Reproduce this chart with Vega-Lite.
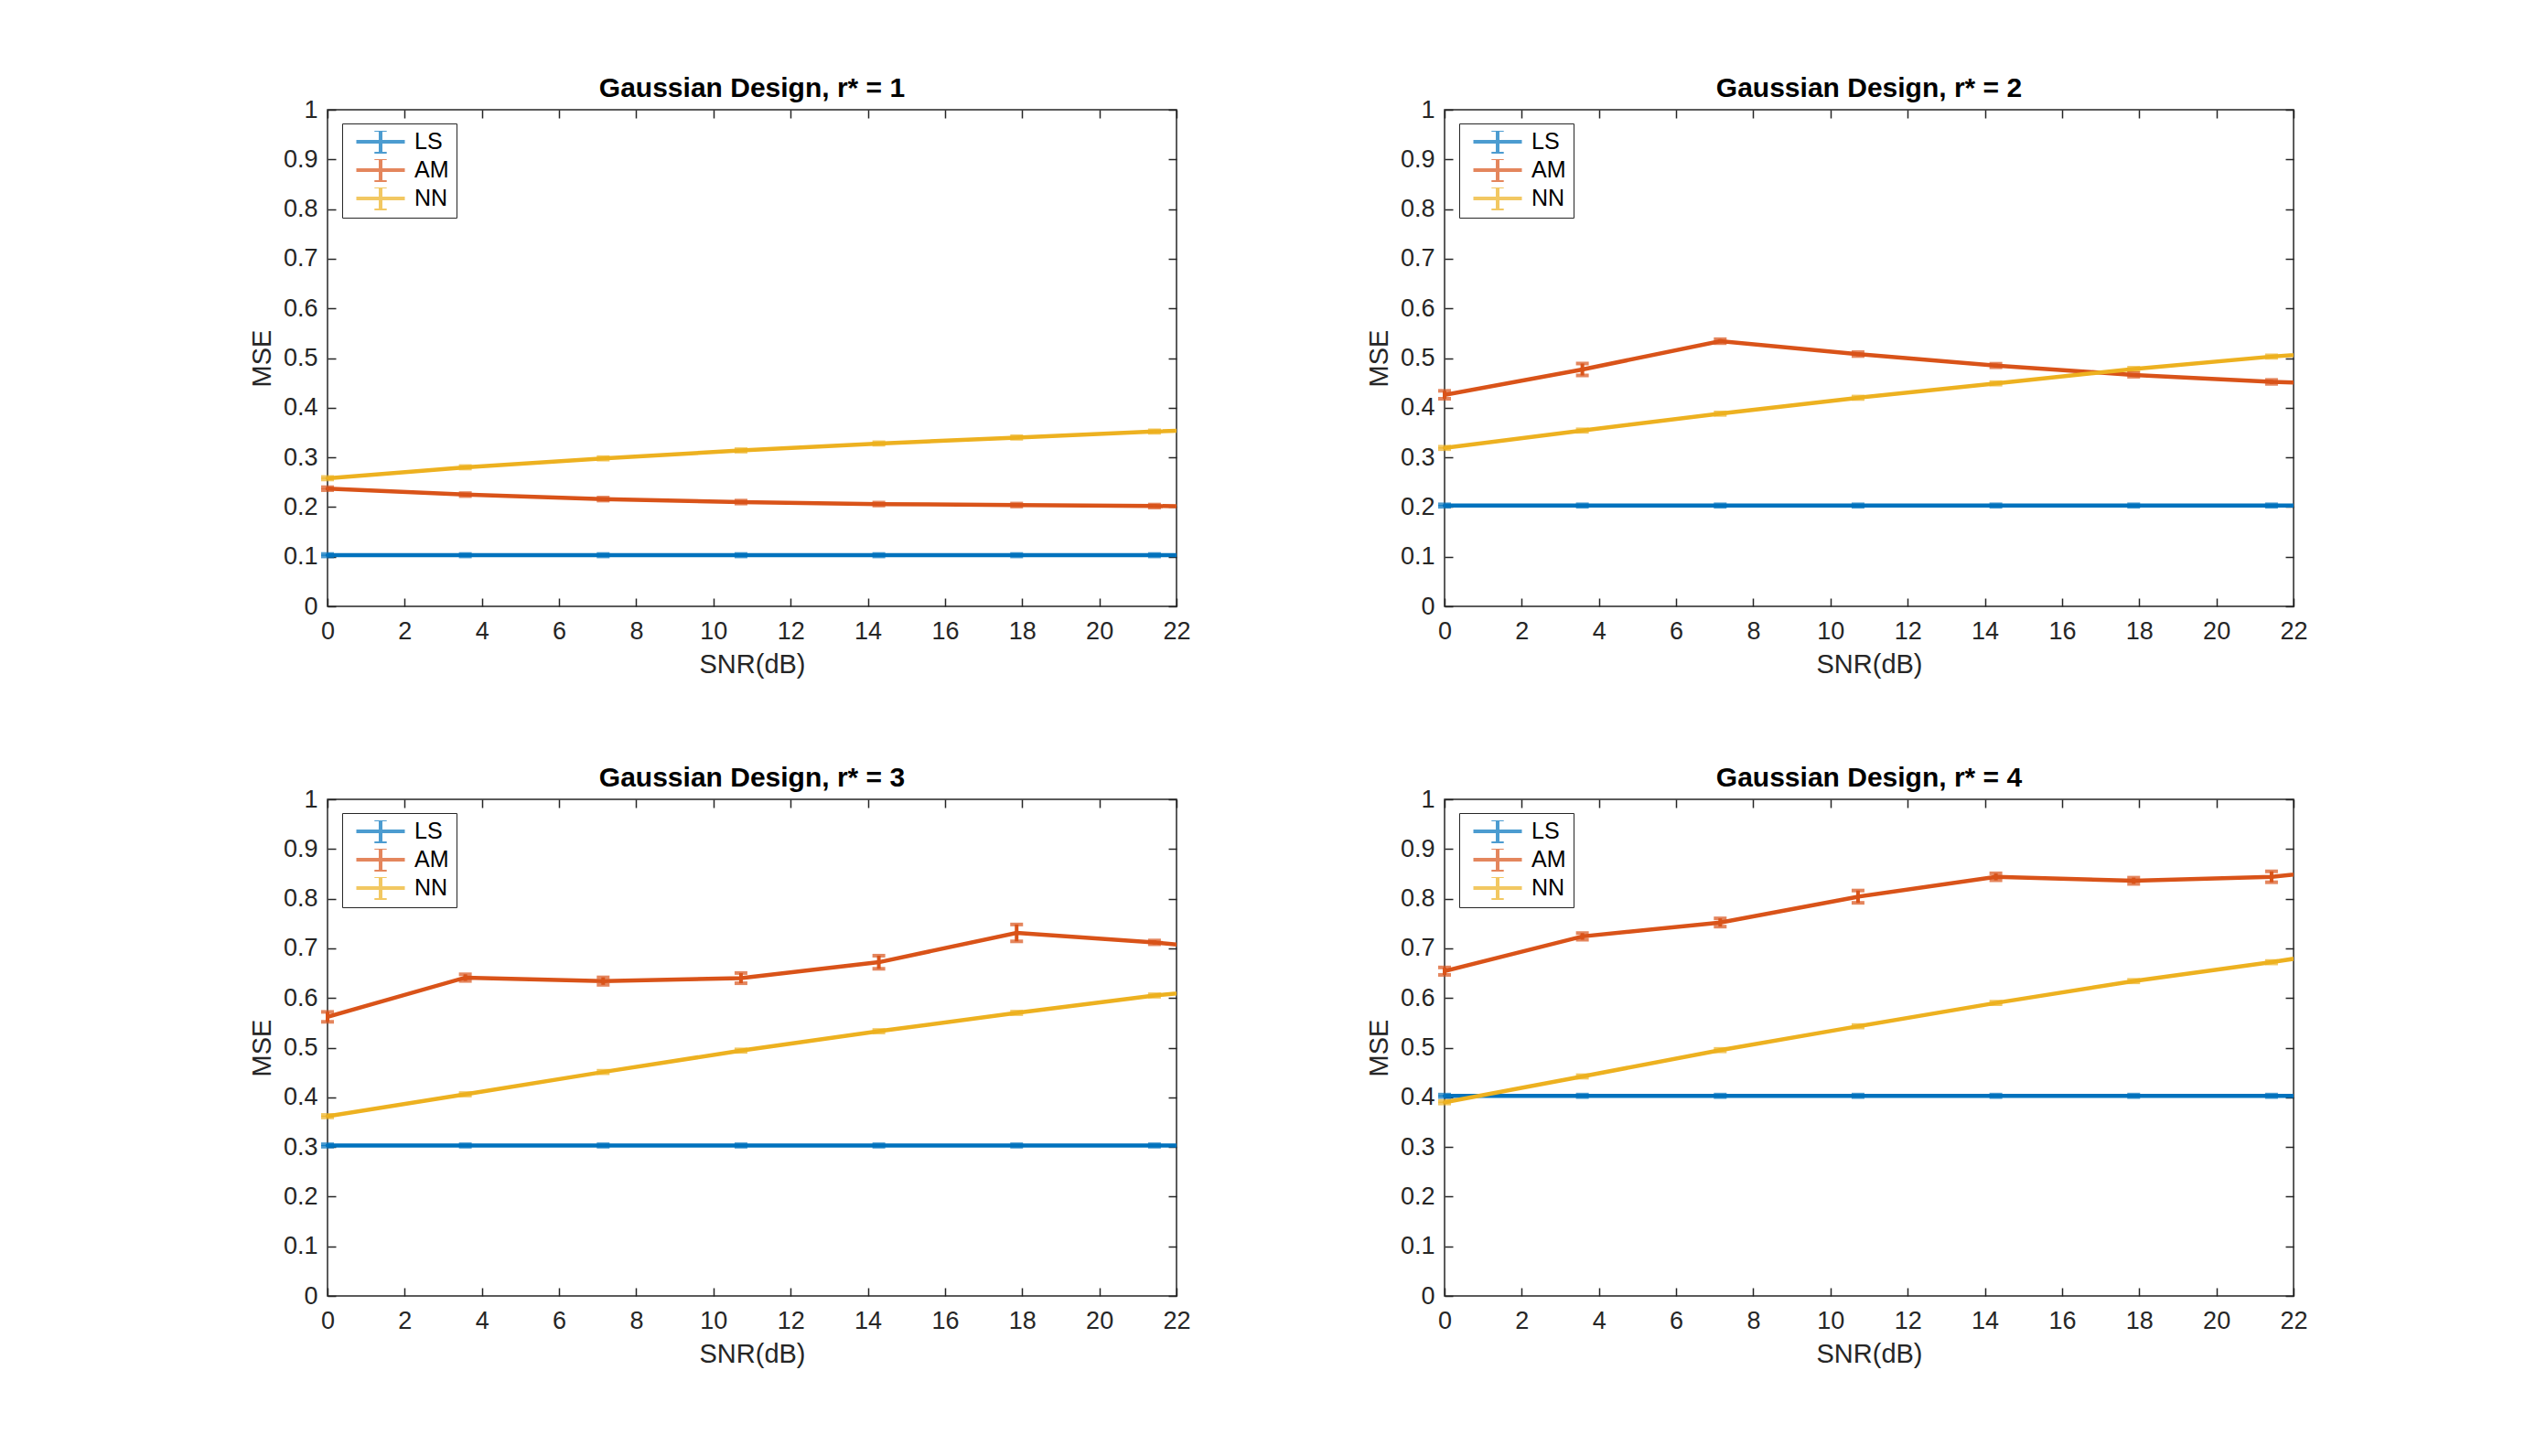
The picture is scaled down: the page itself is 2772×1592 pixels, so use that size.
{
  "$schema": "https://vega.github.io/schema/vega-lite/v6.json",
  "padding": {"left": 271, "top": 81, "right": 0, "bottom": 0},
  "background": "white",
  "data": {
    "values": [
      {"p": 1, "m": "LS", "x": 0, "y": 0.103, "e": 0.0025},
      {"p": 1, "m": "LS", "x": 3.571, "y": 0.103, "e": 0.0025},
      {"p": 1, "m": "LS", "x": 7.143, "y": 0.103, "e": 0.0025},
      {"p": 1, "m": "LS", "x": 10.714, "y": 0.103, "e": 0.0025},
      {"p": 1, "m": "LS", "x": 14.286, "y": 0.103, "e": 0.0025},
      {"p": 1, "m": "LS", "x": 17.857, "y": 0.103, "e": 0.0025},
      {"p": 1, "m": "LS", "x": 21.429, "y": 0.103, "e": 0.0025},
      {"p": 1, "m": "LS", "x": 25, "y": 0.103, "e": 0},
      {"p": 1, "m": "AM", "x": 0, "y": 0.237, "e": 0.003},
      {"p": 1, "m": "AM", "x": 3.571, "y": 0.225, "e": 0.003},
      {"p": 1, "m": "AM", "x": 7.143, "y": 0.216, "e": 0.003},
      {"p": 1, "m": "AM", "x": 10.714, "y": 0.21, "e": 0.003},
      {"p": 1, "m": "AM", "x": 14.286, "y": 0.206, "e": 0.003},
      {"p": 1, "m": "AM", "x": 17.857, "y": 0.204, "e": 0.003},
      {"p": 1, "m": "AM", "x": 21.429, "y": 0.202, "e": 0.003},
      {"p": 1, "m": "AM", "x": 25, "y": 0.2, "e": 0},
      {"p": 1, "m": "NN", "x": 0, "y": 0.258, "e": 0.0025},
      {"p": 1, "m": "NN", "x": 3.571, "y": 0.28, "e": 0.0025},
      {"p": 1, "m": "NN", "x": 7.143, "y": 0.298, "e": 0.0025},
      {"p": 1, "m": "NN", "x": 10.714, "y": 0.314, "e": 0.0025},
      {"p": 1, "m": "NN", "x": 14.286, "y": 0.328, "e": 0.0025},
      {"p": 1, "m": "NN", "x": 17.857, "y": 0.34, "e": 0.0025},
      {"p": 1, "m": "NN", "x": 21.429, "y": 0.352, "e": 0.0025},
      {"p": 1, "m": "NN", "x": 25, "y": 0.362, "e": 0},
      {"p": 2, "m": "LS", "x": 0, "y": 0.203, "e": 0.0025},
      {"p": 2, "m": "LS", "x": 3.571, "y": 0.203, "e": 0.0025},
      {"p": 2, "m": "LS", "x": 7.143, "y": 0.203, "e": 0.0025},
      {"p": 2, "m": "LS", "x": 10.714, "y": 0.203, "e": 0.0025},
      {"p": 2, "m": "LS", "x": 14.286, "y": 0.203, "e": 0.0025},
      {"p": 2, "m": "LS", "x": 17.857, "y": 0.203, "e": 0.0025},
      {"p": 2, "m": "LS", "x": 21.429, "y": 0.203, "e": 0.0025},
      {"p": 2, "m": "LS", "x": 25, "y": 0.203, "e": 0},
      {"p": 2, "m": "AM", "x": 0, "y": 0.426, "e": 0.008},
      {"p": 2, "m": "AM", "x": 3.571, "y": 0.477, "e": 0.012},
      {"p": 2, "m": "AM", "x": 7.143, "y": 0.534, "e": 0.004},
      {"p": 2, "m": "AM", "x": 10.714, "y": 0.508, "e": 0.004},
      {"p": 2, "m": "AM", "x": 14.286, "y": 0.485, "e": 0.0036},
      {"p": 2, "m": "AM", "x": 17.857, "y": 0.466, "e": 0.0036},
      {"p": 2, "m": "AM", "x": 21.429, "y": 0.452, "e": 0.004},
      {"p": 2, "m": "AM", "x": 25, "y": 0.445, "e": 0},
      {"p": 2, "m": "NN", "x": 0, "y": 0.319, "e": 0.0025},
      {"p": 2, "m": "NN", "x": 3.571, "y": 0.354, "e": 0.0025},
      {"p": 2, "m": "NN", "x": 7.143, "y": 0.388, "e": 0.0025},
      {"p": 2, "m": "NN", "x": 10.714, "y": 0.42, "e": 0.0025},
      {"p": 2, "m": "NN", "x": 14.286, "y": 0.449, "e": 0.0025},
      {"p": 2, "m": "NN", "x": 17.857, "y": 0.478, "e": 0.0025},
      {"p": 2, "m": "NN", "x": 21.429, "y": 0.503, "e": 0.0025},
      {"p": 2, "m": "NN", "x": 25, "y": 0.523, "e": 0},
      {"p": 3, "m": "LS", "x": 0, "y": 0.303, "e": 0.0025},
      {"p": 3, "m": "LS", "x": 3.571, "y": 0.303, "e": 0.0025},
      {"p": 3, "m": "LS", "x": 7.143, "y": 0.303, "e": 0.0025},
      {"p": 3, "m": "LS", "x": 10.714, "y": 0.303, "e": 0.0025},
      {"p": 3, "m": "LS", "x": 14.286, "y": 0.303, "e": 0.0025},
      {"p": 3, "m": "LS", "x": 17.857, "y": 0.303, "e": 0.0025},
      {"p": 3, "m": "LS", "x": 21.429, "y": 0.303, "e": 0.0025},
      {"p": 3, "m": "LS", "x": 25, "y": 0.303, "e": 0},
      {"p": 3, "m": "AM", "x": 0, "y": 0.562, "e": 0.01},
      {"p": 3, "m": "AM", "x": 3.571, "y": 0.641, "e": 0.0067},
      {"p": 3, "m": "AM", "x": 7.143, "y": 0.634, "e": 0.0075},
      {"p": 3, "m": "AM", "x": 10.714, "y": 0.64, "e": 0.0103},
      {"p": 3, "m": "AM", "x": 14.286, "y": 0.672, "e": 0.0132},
      {"p": 3, "m": "AM", "x": 17.857, "y": 0.731, "e": 0.017},
      {"p": 3, "m": "AM", "x": 21.429, "y": 0.712, "e": 0.0038},
      {"p": 3, "m": "AM", "x": 25, "y": 0.685, "e": 0},
      {"p": 3, "m": "NN", "x": 0, "y": 0.362, "e": 0.0025},
      {"p": 3, "m": "NN", "x": 3.571, "y": 0.406, "e": 0.0025},
      {"p": 3, "m": "NN", "x": 7.143, "y": 0.451, "e": 0.0025},
      {"p": 3, "m": "NN", "x": 10.714, "y": 0.494, "e": 0.0025},
      {"p": 3, "m": "NN", "x": 14.286, "y": 0.533, "e": 0.0025},
      {"p": 3, "m": "NN", "x": 17.857, "y": 0.57, "e": 0.0025},
      {"p": 3, "m": "NN", "x": 21.429, "y": 0.605, "e": 0.0025},
      {"p": 3, "m": "NN", "x": 25, "y": 0.632, "e": 0},
      {"p": 4, "m": "LS", "x": 0, "y": 0.403, "e": 0.0025},
      {"p": 4, "m": "LS", "x": 3.571, "y": 0.403, "e": 0.0025},
      {"p": 4, "m": "LS", "x": 7.143, "y": 0.403, "e": 0.0025},
      {"p": 4, "m": "LS", "x": 10.714, "y": 0.403, "e": 0.0025},
      {"p": 4, "m": "LS", "x": 14.286, "y": 0.403, "e": 0.0025},
      {"p": 4, "m": "LS", "x": 17.857, "y": 0.403, "e": 0.0025},
      {"p": 4, "m": "LS", "x": 21.429, "y": 0.403, "e": 0.0025},
      {"p": 4, "m": "LS", "x": 25, "y": 0.403, "e": 0},
      {"p": 4, "m": "AM", "x": 0, "y": 0.654, "e": 0.0075},
      {"p": 4, "m": "AM", "x": 3.571, "y": 0.724, "e": 0.0067},
      {"p": 4, "m": "AM", "x": 7.143, "y": 0.752, "e": 0.0083},
      {"p": 4, "m": "AM", "x": 10.714, "y": 0.804, "e": 0.0124},
      {"p": 4, "m": "AM", "x": 14.286, "y": 0.844, "e": 0.007},
      {"p": 4, "m": "AM", "x": 17.857, "y": 0.836, "e": 0.0063},
      {"p": 4, "m": "AM", "x": 21.429, "y": 0.844, "e": 0.011},
      {"p": 4, "m": "AM", "x": 25, "y": 0.873, "e": 0},
      {"p": 4, "m": "NN", "x": 0, "y": 0.39, "e": 0.0025},
      {"p": 4, "m": "NN", "x": 3.571, "y": 0.442, "e": 0.0025},
      {"p": 4, "m": "NN", "x": 7.143, "y": 0.495, "e": 0.0025},
      {"p": 4, "m": "NN", "x": 10.714, "y": 0.543, "e": 0.0025},
      {"p": 4, "m": "NN", "x": 14.286, "y": 0.59, "e": 0.0025},
      {"p": 4, "m": "NN", "x": 17.857, "y": 0.634, "e": 0.0025},
      {"p": 4, "m": "NN", "x": 21.429, "y": 0.672, "e": 0.0025},
      {"p": 4, "m": "NN", "x": 25, "y": 0.715, "e": 0}
    ]
  },
  "columns": 2,
  "spacing": {"row": 211, "column": 293},
  "bounds": "flush",
  "concat": [
    {
      "width": 928,
      "height": 543,
      "title": "Gaussian Design, r* = 1",
      "transform": [{"filter": "datum.p == 1"}],
      "layer": [
        {
          "mark": {"type": "line", "clip": true, "strokeWidth": 4.5},
          "encoding": {
            "x": {"field": "x", "type": "quantitative", "title": "SNR(dB)", "scale": {"domain": [0, 22], "nice": false}, "axis": {"orient": "bottom", "values": [0, 2, 4, 6, 8, 10, 12, 14, 16, 18, 20, 22]}},
            "y": {"field": "y", "type": "quantitative", "title": "MSE", "scale": {"domain": [0, 1], "nice": false}, "axis": {"orient": "left", "values": [0, 0.1, 0.2, 0.3, 0.4, 0.5, 0.6, 0.7, 0.8, 0.9, 1], "format": "~g"}},
            "color": {"field": "m", "type": "nominal", "scale": {"domain": ["LS", "AM", "NN"], "range": ["#0072BD", "#D95319", "#EDB120"]}, "legend": {"title": null}}
          }
        },
        {
          "transform": [{"filter": "datum.x < 22"}],
          "mark": {"type": "errorbar", "ticks": true, "size": 14, "thickness": 4},
          "encoding": {
            "x": {"field": "x", "type": "quantitative", "axis": null},
            "y": {"field": "y", "type": "quantitative", "axis": null},
            "yError": {"field": "e"},
            "color": {"field": "m", "type": "nominal"}
          }
        },
        {
          "transform": [{"filter": "datum.x < 22"}],
          "mark": {"type": "point", "opacity": 0},
          "encoding": {
            "x": {"field": "x", "type": "quantitative", "axis": {"orient": "top", "title": null, "labels": false, "values": [0, 2, 4, 6, 8, 10, 12, 14, 16, 18, 20, 22]}},
            "y": {"field": "y", "type": "quantitative", "axis": {"orient": "right", "title": null, "labels": false, "values": [0, 0.1, 0.2, 0.3, 0.4, 0.5, 0.6, 0.7, 0.8, 0.9, 1]}}
          }
        }
      ],
      "resolve": {"axis": {"x": "independent", "y": "independent"}}
    },
    {
      "width": 928,
      "height": 543,
      "title": "Gaussian Design, r* = 2",
      "transform": [{"filter": "datum.p == 2"}],
      "layer": [
        {
          "mark": {"type": "line", "clip": true, "strokeWidth": 4.5},
          "encoding": {
            "x": {"field": "x", "type": "quantitative", "title": "SNR(dB)", "scale": {"domain": [0, 22], "nice": false}, "axis": {"orient": "bottom", "values": [0, 2, 4, 6, 8, 10, 12, 14, 16, 18, 20, 22]}},
            "y": {"field": "y", "type": "quantitative", "title": "MSE", "scale": {"domain": [0, 1], "nice": false}, "axis": {"orient": "left", "values": [0, 0.1, 0.2, 0.3, 0.4, 0.5, 0.6, 0.7, 0.8, 0.9, 1], "format": "~g"}},
            "color": {"field": "m", "type": "nominal", "scale": {"domain": ["LS", "AM", "NN"], "range": ["#0072BD", "#D95319", "#EDB120"]}, "legend": {"title": null}}
          }
        },
        {
          "transform": [{"filter": "datum.x < 22"}],
          "mark": {"type": "errorbar", "ticks": true, "size": 14, "thickness": 4},
          "encoding": {
            "x": {"field": "x", "type": "quantitative", "axis": null},
            "y": {"field": "y", "type": "quantitative", "axis": null},
            "yError": {"field": "e"},
            "color": {"field": "m", "type": "nominal"}
          }
        },
        {
          "transform": [{"filter": "datum.x < 22"}],
          "mark": {"type": "point", "opacity": 0},
          "encoding": {
            "x": {"field": "x", "type": "quantitative", "axis": {"orient": "top", "title": null, "labels": false, "values": [0, 2, 4, 6, 8, 10, 12, 14, 16, 18, 20, 22]}},
            "y": {"field": "y", "type": "quantitative", "axis": {"orient": "right", "title": null, "labels": false, "values": [0, 0.1, 0.2, 0.3, 0.4, 0.5, 0.6, 0.7, 0.8, 0.9, 1]}}
          }
        }
      ],
      "resolve": {"axis": {"x": "independent", "y": "independent"}}
    },
    {
      "width": 928,
      "height": 543,
      "title": "Gaussian Design, r* = 3",
      "transform": [{"filter": "datum.p == 3"}],
      "layer": [
        {
          "mark": {"type": "line", "clip": true, "strokeWidth": 4.5},
          "encoding": {
            "x": {"field": "x", "type": "quantitative", "title": "SNR(dB)", "scale": {"domain": [0, 22], "nice": false}, "axis": {"orient": "bottom", "values": [0, 2, 4, 6, 8, 10, 12, 14, 16, 18, 20, 22]}},
            "y": {"field": "y", "type": "quantitative", "title": "MSE", "scale": {"domain": [0, 1], "nice": false}, "axis": {"orient": "left", "values": [0, 0.1, 0.2, 0.3, 0.4, 0.5, 0.6, 0.7, 0.8, 0.9, 1], "format": "~g"}},
            "color": {"field": "m", "type": "nominal", "scale": {"domain": ["LS", "AM", "NN"], "range": ["#0072BD", "#D95319", "#EDB120"]}, "legend": {"title": null}}
          }
        },
        {
          "transform": [{"filter": "datum.x < 22"}],
          "mark": {"type": "errorbar", "ticks": true, "size": 14, "thickness": 4},
          "encoding": {
            "x": {"field": "x", "type": "quantitative", "axis": null},
            "y": {"field": "y", "type": "quantitative", "axis": null},
            "yError": {"field": "e"},
            "color": {"field": "m", "type": "nominal"}
          }
        },
        {
          "transform": [{"filter": "datum.x < 22"}],
          "mark": {"type": "point", "opacity": 0},
          "encoding": {
            "x": {"field": "x", "type": "quantitative", "axis": {"orient": "top", "title": null, "labels": false, "values": [0, 2, 4, 6, 8, 10, 12, 14, 16, 18, 20, 22]}},
            "y": {"field": "y", "type": "quantitative", "axis": {"orient": "right", "title": null, "labels": false, "values": [0, 0.1, 0.2, 0.3, 0.4, 0.5, 0.6, 0.7, 0.8, 0.9, 1]}}
          }
        }
      ],
      "resolve": {"axis": {"x": "independent", "y": "independent"}}
    },
    {
      "width": 928,
      "height": 543,
      "title": "Gaussian Design, r* = 4",
      "transform": [{"filter": "datum.p == 4"}],
      "layer": [
        {
          "mark": {"type": "line", "clip": true, "strokeWidth": 4.5},
          "encoding": {
            "x": {"field": "x", "type": "quantitative", "title": "SNR(dB)", "scale": {"domain": [0, 22], "nice": false}, "axis": {"orient": "bottom", "values": [0, 2, 4, 6, 8, 10, 12, 14, 16, 18, 20, 22]}},
            "y": {"field": "y", "type": "quantitative", "title": "MSE", "scale": {"domain": [0, 1], "nice": false}, "axis": {"orient": "left", "values": [0, 0.1, 0.2, 0.3, 0.4, 0.5, 0.6, 0.7, 0.8, 0.9, 1], "format": "~g"}},
            "color": {"field": "m", "type": "nominal", "scale": {"domain": ["LS", "AM", "NN"], "range": ["#0072BD", "#D95319", "#EDB120"]}, "legend": {"title": null}}
          }
        },
        {
          "transform": [{"filter": "datum.x < 22"}],
          "mark": {"type": "errorbar", "ticks": true, "size": 14, "thickness": 4},
          "encoding": {
            "x": {"field": "x", "type": "quantitative", "axis": null},
            "y": {"field": "y", "type": "quantitative", "axis": null},
            "yError": {"field": "e"},
            "color": {"field": "m", "type": "nominal"}
          }
        },
        {
          "transform": [{"filter": "datum.x < 22"}],
          "mark": {"type": "point", "opacity": 0},
          "encoding": {
            "x": {"field": "x", "type": "quantitative", "axis": {"orient": "top", "title": null, "labels": false, "values": [0, 2, 4, 6, 8, 10, 12, 14, 16, 18, 20, 22]}},
            "y": {"field": "y", "type": "quantitative", "axis": {"orient": "right", "title": null, "labels": false, "values": [0, 0.1, 0.2, 0.3, 0.4, 0.5, 0.6, 0.7, 0.8, 0.9, 1]}}
          }
        }
      ],
      "resolve": {"axis": {"x": "independent", "y": "independent"}}
    }
  ],
  "resolve": {"scale": {"color": "independent"}, "legend": {"color": "independent"}},
  "config": {
    "font": "Liberation Sans",
    "view": {"stroke": "#262626", "strokeWidth": 1.5},
    "title": {"fontSize": 30, "fontWeight": "bold", "color": "#000000", "offset": -6, "font": "Liberation Sans"},
    "axis": {
      "grid": false,
      "domain": false,
      "tickSize": -9,
      "tickWidth": 1.5,
      "tickColor": "#262626",
      "labelColor": "#262626",
      "titleColor": "#262626",
      "labelFont": "Liberation Sans",
      "titleFont": "Liberation Sans",
      "labelFontSize": 27,
      "titleFontSize": 29,
      "titleFontWeight": "normal",
      "labelFlush": false,
      "labelOverlap": false
    },
    "axisBottom": {"labelPadding": 23, "titlePadding": 9},
    "axisLeft": {"labelPadding": 20, "titlePadding": 8},
    "legend": {
      "orient": "none",
      "legendX": 16,
      "legendY": 15,
      "strokeColor": "#262626",
      "fillColor": "white",
      "padding": 8,
      "rowPadding": 6,
      "clipHeight": 24,
      "symbolType": "M-1,0H9.6M4.3,-2.6V2.6M2.96,-2.6H5.64M2.96,2.6H5.64",
      "symbolSize": 100,
      "symbolStrokeWidth": 4,
      "labelFont": "Liberation Sans",
      "labelFontSize": 25,
      "labelColor": "#000000",
      "labelOffset": 46
    }
  }
}
